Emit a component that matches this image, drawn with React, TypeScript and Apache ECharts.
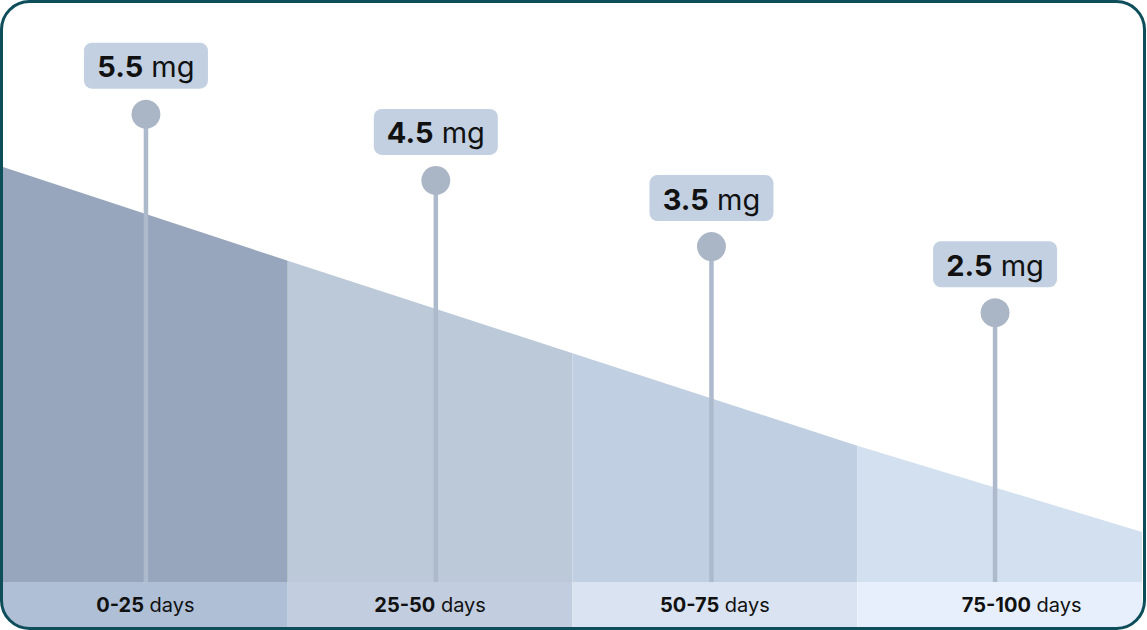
import React, { useEffect, useRef } from "react";
import * as echarts from "echarts";

// ---- data ----
const categories: string[] = ["0-25", "25-50", "50-75", "75-100"];
const doses: number[] = [5.5, 4.5, 3.5, 2.5];
// day position of each dose marker
const markerDays: number[] = [12.55, 38.0, 62.2, 87.1];
// x-positions (days) of the band boundaries and the curve height (% of plot) there
const boundaryDays: number[] = [0, 25, 50, 75, 100];
const curveHeights: number[] = [71.3, 55.2, 39.3, 23.4, 8.6];

// ---- styles ----
const bandColors = ["#97a6bc", "#bcc9d9", "#c0cfe1", "#d3e0f0"];
const axisBandColors = ["#aebfd6", "#c2cedf", "#dae3f1", "#e8effc"];
const FONT = "Inter, 'Liberation Sans', Arial, sans-serif";

const W = 1147;
const H = 630;
const R = 28;
const maskD =
  `M0 0 H${W} V${H} H0 Z ` +
  `M${1.5 + R} 1.5 A${R} ${R} 0 0 0 1.5 ${1.5 + R} V${628.5 - R} A${R} ${R} 0 0 0 ${1.5 + R} 628.5 ` +
  `H${1144.5 - R} A${R} ${R} 0 0 0 1144.5 ${628.5 - R} V${1.5 + R} A${R} ${R} 0 0 0 ${1144.5 - R} 1.5 Z`;

let registered = false;

export default function App() {
  const ref = useRef<HTMLDivElement>(null);
  useEffect(() => {
    document.body.style.margin = "0";
    if (!registered) {
      echarts.graphic.registerShape("frameMask", echarts.graphic.extendPath(maskD, {}));
      registered = true;
    }
    const chart = echarts.init(ref.current!, undefined, { renderer: "svg" });

    const areaSeries = categories.map((c, i) => ({
      type: "line",
      name: c,
      xAxisIndex: 0,
      yAxisIndex: 1,
      data: [
        [boundaryDays[i], curveHeights[i]],
        [boundaryDays[i + 1], curveHeights[i + 1]],
      ],
      symbol: "none",
      lineStyle: { width: 0, opacity: 0 },
      areaStyle: { color: bandColors[i], opacity: 1, origin: "start" },
      silent: true,
      z: 1,
    }));

    const richLabel = (pad: number) => ({
      fontWeight: "bold",
      fontSize: 20,
      fontFamily: FONT,
      color: "#111111",
      padding: [0, 0, 0, pad],
    });

    const option: any = {
      animation: false,
      backgroundColor: "#ffffff",
      grid: [
        { left: 3, right: 5, top: 0, bottom: 48 },
        { left: 3, right: 5, top: 582, bottom: 2 },
      ],
      xAxis: [
        { type: "value", gridIndex: 0, min: 0, max: 100, show: false },
        {
          type: "category",
          gridIndex: 1,
          data: categories,
          boundaryGap: true,
          position: "top",
          axisLine: { show: false },
          axisTick: { show: false },
          splitLine: { show: false },
          splitArea: { show: true, areaStyle: { color: axisBandColors, opacity: 1 } },
          axisLabel: {
            inside: true,
            margin: 23,
            verticalAlign: "middle",
            fontSize: 20,
            fontFamily: FONT,
            color: "#111111",
            formatter: (v: string, i: number) =>
              i === 3 ? `{b3|${v}} {r|days}` : `{b|${v}} {r|days}`,
            rich: {
              b: richLabel(0),
              b3: richLabel(44),
              r: { fontWeight: "normal", fontSize: 20, fontFamily: FONT, color: "#111111" },
            },
          },
        },
      ],
      yAxis: [
        { type: "value", gridIndex: 0, min: -1.567, max: 7.225, show: false },
        { type: "value", gridIndex: 0, min: 0, max: 100, show: false },
        { type: "value", gridIndex: 1, min: 0, max: 1, show: false },
      ],
      series: [
        ...areaSeries,
        {
          type: "custom",
          xAxisIndex: 0,
          yAxisIndex: 0,
          data: doses.map((d, i) => [markerDays[i], d]),
          z: 5,
          renderItem: (params: any, api: any) => {
            const val = api.value(1);
            const pt = api.coord([api.value(0), val]);
            const cs = params.coordSys;
            const bottom = cs.y + cs.height;
            const cx = pt[0];
            const cy = pt[1];
            const ly = cy - 48.5;
            return {
              type: "group",
              children: [
                {
                  type: "line",
                  shape: { x1: cx, y1: cy, x2: cx, y2: bottom },
                  style: { stroke: "#adbacb", lineWidth: 4.5 },
                },
                {
                  type: "circle",
                  shape: { cx, cy, r: 14.5 },
                  style: { fill: "#aab6c6" },
                },
                {
                  type: "rect",
                  shape: { x: cx - 62, y: ly - 23, width: 124, height: 46, r: 8 },
                  style: { fill: "#c2d0e2" },
                },
                {
                  type: "text",
                  style: {
                    x: cx,
                    y: ly + 1,
                    text: `{b|${val}} {r|mg}`,
                    fontSize: 29,
                    fontFamily: FONT,
                    fill: "#111111",
                    align: "center",
                    verticalAlign: "middle",
                    rich: {
                      b: { fontWeight: "bold", fontSize: 29, fontFamily: FONT, fill: "#111111" },
                      r: { fontWeight: "normal", fontSize: 29, fontFamily: FONT, fill: "#111111" },
                    },
                  },
                },
              ],
            };
          },
        },
      ],
      graphic: [
        {
          type: "frameMask",
          x: 0,
          y: 0,
          silent: true,
          z: 100,
          style: { fill: "#ffffff" },
        },
        {
          type: "rect",
          silent: true,
          z: 101,
          shape: { x: 1.5, y: 1.5, width: 1143, height: 627, r: R },
          style: { fill: "none", stroke: "#0e4e5b", lineWidth: 3 },
        },
      ],
    };
    chart.setOption(option);
    return () => chart.dispose();
  }, []);
  return (
    <div
      ref={ref}
      style={{ position: "absolute", left: 0, top: 0, width: W, height: H }}
    />
  );
}
